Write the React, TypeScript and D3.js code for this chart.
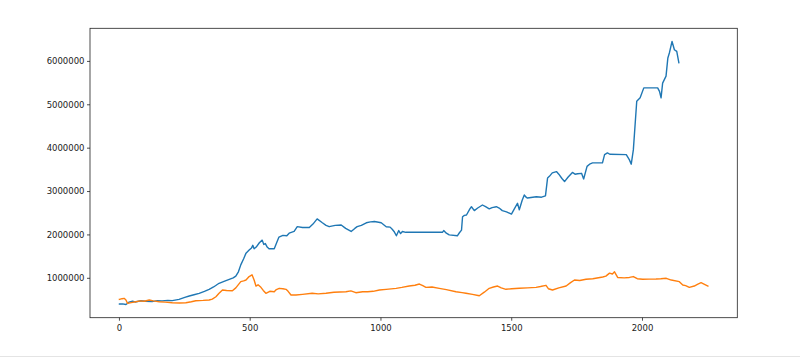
import React from "react";
import * as d3 from "d3";

// blue series (x index, value)
const blueX = [
  0, 12, 25, 37, 50, 60, 82, 100, 125, 145, 163, 185, 202, 228, 250, 267, 285, 305, 325, 343, 360, 381, 400, 420, 435,
  445, 455, 464, 475, 484, 496, 505, 510, 515, 523, 535, 546, 552, 558, 565, 572, 592, 600, 610, 625, 640, 649, 668, 680,
  700, 726, 740, 756, 776, 790, 802, 825, 848, 865, 886, 900, 909, 925, 944, 960, 975, 1001, 1020, 1035, 1043, 1050,
  1059, 1068, 1075, 1082, 1095, 1108, 1235, 1240, 1250, 1261, 1292, 1300, 1308, 1312, 1319, 1327, 1340, 1346, 1357,
  1370, 1388, 1400, 1414, 1425, 1441, 1452, 1464, 1480, 1499, 1510, 1522, 1529, 1540, 1548, 1555, 1560, 1594, 1614,
  1629, 1637, 1644, 1655, 1671, 1680, 1692, 1702, 1715, 1732, 1742, 1752, 1767, 1775, 1788, 1800, 1809, 1847, 1855,
  1866, 1875, 1938, 1950, 1957, 1965, 1973, 1978, 1991, 2005, 2058, 2065, 2071, 2077, 2090, 2097, 2103, 2113, 2122,
  2131, 2139,
];
const blueY = [
  406000, 410000, 395000, 450000, 470000, 455000, 483000, 470000, 462000, 485000, 480000, 490000, 485000, 515000,
  560000, 591000, 620000, 654000, 700000, 746000, 800000, 885000, 930000, 977000, 1010000, 1050000, 1150000, 1310000,
  1450000, 1580000, 1650000, 1700000, 1760000, 1680000, 1720000, 1820000, 1880000, 1780000, 1800000, 1720000, 1680000,
  1680000, 1800000, 1950000, 1990000, 1980000, 2040000, 2080000, 2190000, 2170000, 2170000, 2250000, 2370000, 2280000,
  2220000, 2190000, 2220000, 2230000, 2150000, 2080000, 2150000, 2190000, 2220000, 2280000, 2300000, 2310000, 2280000,
  2190000, 2180000, 2130000, 2080000, 1980000, 2100000, 2030000, 2080000, 2060000, 2060000, 2060000, 2100000, 2040000,
  2000000, 1980000, 2050000, 2110000, 2420000, 2450000, 2460000, 2600000, 2650000, 2560000, 2620000, 2690000, 2650000,
  2600000, 2630000, 2650000, 2620000, 2560000, 2530000, 2480000, 2600000, 2730000, 2580000, 2800000, 2920000, 2870000,
  2850000, 2880000, 2870000, 2900000, 3310000, 3350000, 3430000, 3460000, 3400000, 3300000, 3230000, 3330000, 3440000,
  3400000, 3410000, 3420000, 3290000, 3580000, 3640000, 3660000, 3660000, 3850000, 3890000, 3860000, 3850000, 3730000,
  3630000, 3960000, 4650000, 5080000, 5160000, 5390000, 5390000, 5310000, 5160000, 5500000, 5660000, 6080000, 6200000,
  6460000, 6270000, 6230000, 5970000,
];

// orange series
const orangeX = [
  0, 10, 18, 25, 31, 45, 63, 80, 95, 114, 130, 152, 175, 202, 230, 254, 275, 292, 320, 343, 355, 369, 380, 394, 410,
  432, 445, 464, 475, 484, 496, 507, 515, 522, 530, 541, 550, 560, 575, 592, 600, 611, 625, 637, 645, 656, 675, 700,
  737, 760, 790, 820, 866, 885, 904, 930, 949, 970, 994, 1020, 1058, 1080, 1108, 1130, 1147, 1160, 1172, 1195, 1223,
  1250, 1287, 1310, 1325, 1350, 1376, 1395, 1414, 1430, 1446, 1460, 1478, 1500, 1529, 1560, 1593, 1610, 1631, 1640,
  1656, 1680, 1708, 1725, 1740, 1760, 1784, 1810, 1848, 1860, 1874, 1885, 1893, 1905, 1930, 1950, 1965, 1980, 2001,
  2025, 2052, 2070, 2091, 2110, 2141, 2154, 2165, 2179, 2198, 2210, 2224, 2237, 2250,
];
const orangeY = [
  515000, 530000, 538000, 500000, 422000, 440000, 460000, 480000, 470000, 499000, 480000, 460000, 450000, 437000,
  430000, 437000, 460000, 483000, 490000, 499000, 520000, 575000, 650000, 730000, 720000, 714000, 780000, 922000,
  940000, 961000, 1040000, 1080000, 960000, 822000, 850000, 792000, 720000, 654000, 700000, 691000, 740000, 769000,
  760000, 746000, 700000, 614000, 614000, 630000, 654000, 640000, 654000, 680000, 691000, 710000, 668000, 690000,
  691000, 700000, 730000, 745000, 769000, 790000, 822000, 840000, 868000, 830000, 792000, 800000, 769000, 740000,
  691000, 670000, 654000, 630000, 598000, 680000, 769000, 800000, 822000, 780000, 746000, 760000, 769000, 780000,
  792000, 810000, 838000, 760000, 730000, 780000, 822000, 900000, 961000, 950000, 977000, 990000, 1030000, 1050000,
  1120000, 1100000, 1150000, 1020000, 1010000, 1020000, 1040000, 990000, 977000, 980000, 984000, 990000, 1000000,
  960000, 922000, 845000, 830000, 792000, 822000, 860000, 899000, 860000, 822000,
];

const xTicks = [0, 500, 1000, 1500, 2000];
const yTicks = [1000000, 2000000, 3000000, 4000000, 5000000, 6000000];

const W = 800;
const H = 361;
const LEFT = 90;
const RIGHT = 737.3;
const TOP = 28.3;
const BOTTOM = 317.7;

const pad = (lo: number, hi: number) => {
  const m = (hi - lo) * 0.05;
  return [lo - m, hi + m];
};

export default function App() {
  const allX = [...blueX, ...orangeX];
  const allY = [...blueY, ...orangeY];
  const x = d3.scaleLinear().domain(pad(d3.min(allX)!, d3.max(allX)!)).range([LEFT, RIGHT]);
  const y = d3.scaleLinear().domain(pad(d3.min(allY)!, d3.max(allY)!)).range([BOTTOM, TOP]);

  const line = d3
    .line<[number, number]>()
    .x((d) => x(d[0]))
    .y((d) => y(d[1]));

  const blue = blueX.map((v, i) => [v, blueY[i]] as [number, number]);
  const orange = orangeX.map((v, i) => [v, orangeY[i]] as [number, number]);

  return (
    <svg
      width={W}
      height={H}
      style={{ position: "fixed", left: 0, top: 0, background: "#fff" }}
      fontFamily="DejaVu Sans"
    >
      <rect width={W} height={H} fill="#fff" />
      <line x1={0} x2={W} y1={356.5} y2={356.5} stroke="#e4e4e4" />
      <g fill="none" strokeWidth={1.4} strokeLinejoin="round" strokeLinecap="square">
        <path d={line(blue) ?? ""} stroke="#1f77b4" />
        <path d={line(orange) ?? ""} stroke="#ff7f0e" />
      </g>
      <rect
        x={LEFT}
        y={TOP}
        width={RIGHT - LEFT}
        height={BOTTOM - TOP}
        fill="none"
        stroke="#222"
        strokeWidth={0.8}
      />
      <g fontSize={8.5} fill="#222">
        {xTicks.map((t) => (
          <g key={t} transform={`translate(${x(t)},${BOTTOM})`}>
            <line y2={3} stroke="#222" strokeWidth={0.8} />
            <text y={13} textAnchor="middle">
              {t}
            </text>
          </g>
        ))}
        {yTicks.map((t) => (
          <g key={t} transform={`translate(${LEFT},${y(t)})`}>
            <line x2={-3} stroke="#222" strokeWidth={0.8} />
            <text x={-5.5} dy="0.33em" textAnchor="end">
              {t}
            </text>
          </g>
        ))}
      </g>
    </svg>
  );
}
